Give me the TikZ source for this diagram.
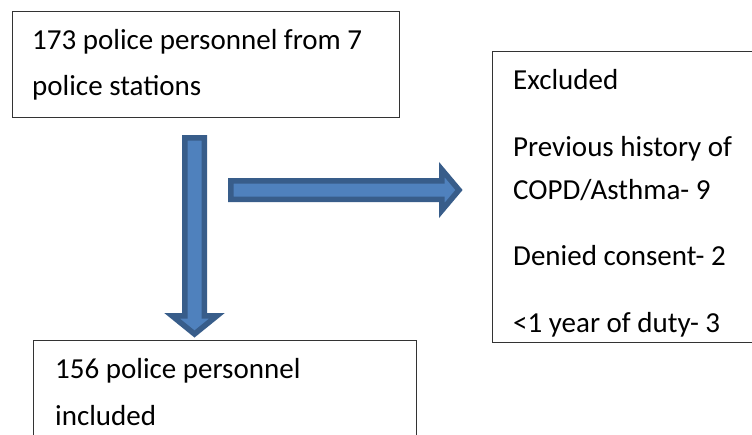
\documentclass[tikz,border=0pt]{standalone}
\usepackage{fontspec}
\setmainfont{Carlito}
\definecolor{arrowfill}{RGB}{79,129,189}
\definecolor{arrowline}{RGB}{56,93,138}
\tikzset{
  boxnode/.style={draw=black!80, line width=1.2pt, fill=none, inner sep=0pt, anchor=north west},
  txt/.style={anchor=base west, inner sep=0pt, font=\fontsize{29pt}{35pt}\selectfont},
  blockarrow/.style={fill=arrowfill, draw=arrowline, line width=5.5pt, line join=miter}
}
\begin{document}
\begin{tikzpicture}[x=1pt,y=-1pt]
\clip (0,0) rectangle (752,434);
\fill[white] (0,0) rectangle (752,434);
% boxes
\node[boxnode, minimum width=387pt, minimum height=106pt] (topbox) at (12,11) {};
\node[boxnode, minimum width=300pt, minimum height=291pt] (exbox) at (492,51) {};
\node[boxnode, minimum width=383pt, minimum height=120pt] (botbox) at (33,340) {};
% texts
\node[txt] (t1) at (32,49) {173 police personnel from 7};
\node[txt] (t2) at (32,95) {police stations};
\node[txt] (e1) at (513,89) {Excluded};
\node[txt] (e2) at (513,156) {Previous history of};
\node[txt] (e3) at (513,199) {COPD/Asthma- 9};
\node[txt] (e4) at (513,265) {Denied consent- 2};
\node[txt] (e5) at (513,332) {<1 year of duty- 3};
\node[txt] (b1) at (55,378) {156 police personnel};
\node[txt] (b2) at (55,425) {included};
% block arrows
\draw[blockarrow] (184.75,137.75) -- (204.25,137.75) -- (204.25,315.75) -- (217,315.75)
  -- (194.5,334) -- (172,315.75) -- (184.75,315.75) -- cycle;
\draw[blockarrow] (230.75,180.75) -- (441.75,180.75) -- (441.75,169.5) -- (459,190)
  -- (441.75,210.5) -- (441.75,199.25) -- (230.75,199.25) -- cycle;
\end{tikzpicture}
\end{document}
